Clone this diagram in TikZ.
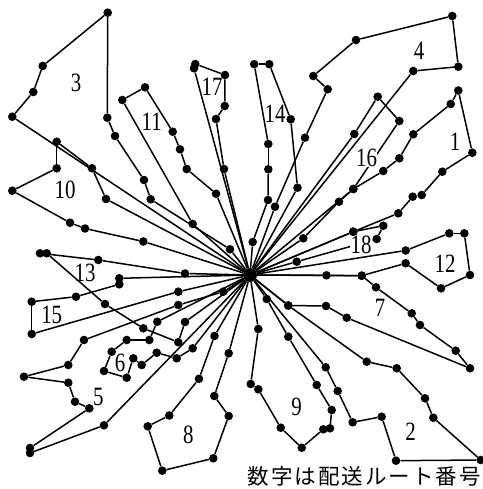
\documentclass[tikz,border=0pt]{standalone}
\usepackage{fontspec}
\usepackage{graphicx}
\setmainfont{Liberation Serif}
\newfontfamily\jpfont{Noto Sans CJK JP}
\tikzset{
  dot/.style={circle,fill=black,inner sep=0pt,minimum size=8.6pt},
  hubdot/.style={circle,fill=black,inner sep=0pt,minimum size=14pt},
  rline/.style={line width=1.5pt,line join=round},
  lab/.style={font=\fontsize{22}{22}\selectfont,inner sep=0.5pt},
  note/.style={font=\jpfont\fontsize{21.5}{22}\selectfont,inner sep=0pt},
}
\newcommand\drawtour[2]{%
  \foreach \p [count=\i, remember=\i as \j (initially 0)] in {#2} {
    \node[dot] (r#1n\i) at \p {};
    \ifnum\j=0 \draw[rline] (hub) -- (r#1n\i); \else \draw[rline] (r#1n\j) -- (r#1n\i); \fi
    \xdef\lastidx{\i}
  }
  \draw[rline] (r#1n\lastidx) -- (hub);
}
\newcommand\lbl[1]{\scalebox{0.95}[1.2]{#1}}
\begin{document}
\begin{tikzpicture}[x=1pt,y=-1pt]
\useasboundingbox (0,0) rectangle (482,489);
\node[hubdot] (hub) at (250,275) {};
% route 1
\drawtour{1}{(303.3,238.3),(339,201.7),(353.3,189),(383.3,171),(399.3,158.3),(413.3,134.3),(450.7,104),(458.3,90.5),(472.3,152.7),(442.3,171.7),(421.7,195),(412.7,196.7),(398.3,213.3),(353.3,231.7)}
% route 2
\drawtour{2}{(325.7,367.3),(337.7,391),(352.7,422.3),(381.7,416.7),(396,460.7),(480.7,460),(433.3,417.7),(425,398.3),(396.7,368.3),(366.7,361.7),(288.3,305.5)}
% route 3
\drawtour{3}{(230,249.3),(150.7,199.3),(144,180),(115,136),(107.3,117.7),(107.7,12.7),(42.7,66),(33.3,92),(12.3,116.7)}
% route 4
\drawtour{4}{(275,206.7),(305,137.7),(327.7,89.3),(313.3,76),(356,40),(452.3,16),(458.3,66.7),(413.3,71)}
% route 5
\drawtour{5}{(223.3,291.7),(178.3,305),(84,340),(68.3,365),(24,376.7),(68.3,382.7),(75,401.7),(89.3,408.3),(30,448),(30,453),(104,425.3)}
% route 6
\drawtour{6}{(157.3,321.7),(149.3,340),(126.7,340),(111.7,351.7),(104,371),(126.7,377.7),(133.3,358.3),(141.7,365),(156.7,352.7),(176.7,358.3),(192.7,348.3)}
% route 7
\drawtour{7}{(361.7,275.7),(376,287.3),(411.7,313.3),(420,325),(455.7,350.7),(470,368.3),(346.7,317.7),(326,306),(288.3,305.5)}
% route 8
\drawtour{8}{(228.7,353.3),(214.3,396),(228.7,416),(213.3,458.3),(162.3,470.7),(147.7,426.3),(169.3,415.5),(199,378.8),(214.5,336)}
% route 9
\drawtour{9}{(258.3,329),(250.7,384),(258.3,389.3),(280.7,427.7),(301.7,447.7),(323.3,429.3),(330,428.3),(331.7,410),(316.7,385),(288.3,336.7),(266.7,299)}
% route 10
\drawtour{10}{(143.3,241.5),(85,228.5),(70,222.7),(12.3,190.7),(56.7,168.3),(56.7,141.7),(92,168.3),(106,199)}
% route 11
\drawtour{11}{(216,193.7),(186.7,169),(180,149.3),(172.7,131.7),(145,87.3),(122.3,100),(192.7,224)}
% route 12
\drawtour{12}{(326.5,275.3),(361.7,275.7),(405.7,263.3),(441,288.3),(470,275),(464.3,233.3),(449.3,233.3),(405.7,250.5)}
% route 13
\drawtour{13}{(185,273.5),(98.3,260),(40,253.3),(46.7,253.3),(105,304),(143.3,328.3),(178.3,342.2),(185,322)}
% route 14
\drawtour{14}{(252.7,242),(268,200),(268.3,169.3),(268.3,144),(254.2,64.2),(269.3,64.2),(290.7,119.3),(297.5,187.7)}
% route 15
\drawtour{15}{(119.3,278.3),(119.3,284.3),(76,296.7),(31.7,301.7),(31.7,334),(178.3,291.7)}
% route 16
\drawtour{16}{(354.3,134),(377.7,96.7),(399.3,121),(353.3,189)}
% route 17
\drawtour{17}{(224,169),(216,119),(224.7,106),(225,75),(195.3,64),(194,68.3)}
% route 18
\drawtour{18}{(353.3,231.7),(383.3,225.7),(376.7,239),(296.7,261.7)}
% labels
\node[lab] (t1) at (455,141.7) {\lbl{1}};
\node[lab] (t2) at (410.7,431.7) {\lbl{2}};
\node[lab] (t3) at (76,82.7) {\lbl{3}};
\node[lab] (t4) at (419,51) {\lbl{4}};
\node[lab] (t5) at (98.3,396.7) {\lbl{5}};
\node[lab] (t6) at (120,363.3) {\lbl{6}};
\node[lab] (t7) at (380,308.3) {\lbl{7}};
\node[lab] (t8) at (188.3,435) {\lbl{8}};
\node[lab] (t9) at (296.7,406.7) {\lbl{9}};
\node[lab] (t10) at (65,190) {\lbl{10}};
\node[lab] (t11) at (151.7,121.7) {\lbl{11}};
\node[lab] (t12) at (445,263.3) {\lbl{12}};
\node[lab] (t13) at (85,272.7) {\lbl{13}};
\node[lab] (t14) at (275,114) {\lbl{14}};
\node[lab] (t15) at (51.7,315) {\lbl{15}};
\node[lab,fill=white] (t16) at (366.5,158) {\lbl{16}};
\node[lab] (t17) at (212,86.7) {\lbl{17}};
\node[lab,fill=white] (t18) at (361,245) {\lbl{18}};
\node[note] (cap) at (364,476) {数\hspace{2pt}字\hspace{2pt}は\hspace{2pt}配\hspace{2pt}送\hspace{2pt}ル\hspace{2pt}ー\hspace{2pt}ト\hspace{2pt}番\hspace{2pt}号};
\end{tikzpicture}
\end{document}
